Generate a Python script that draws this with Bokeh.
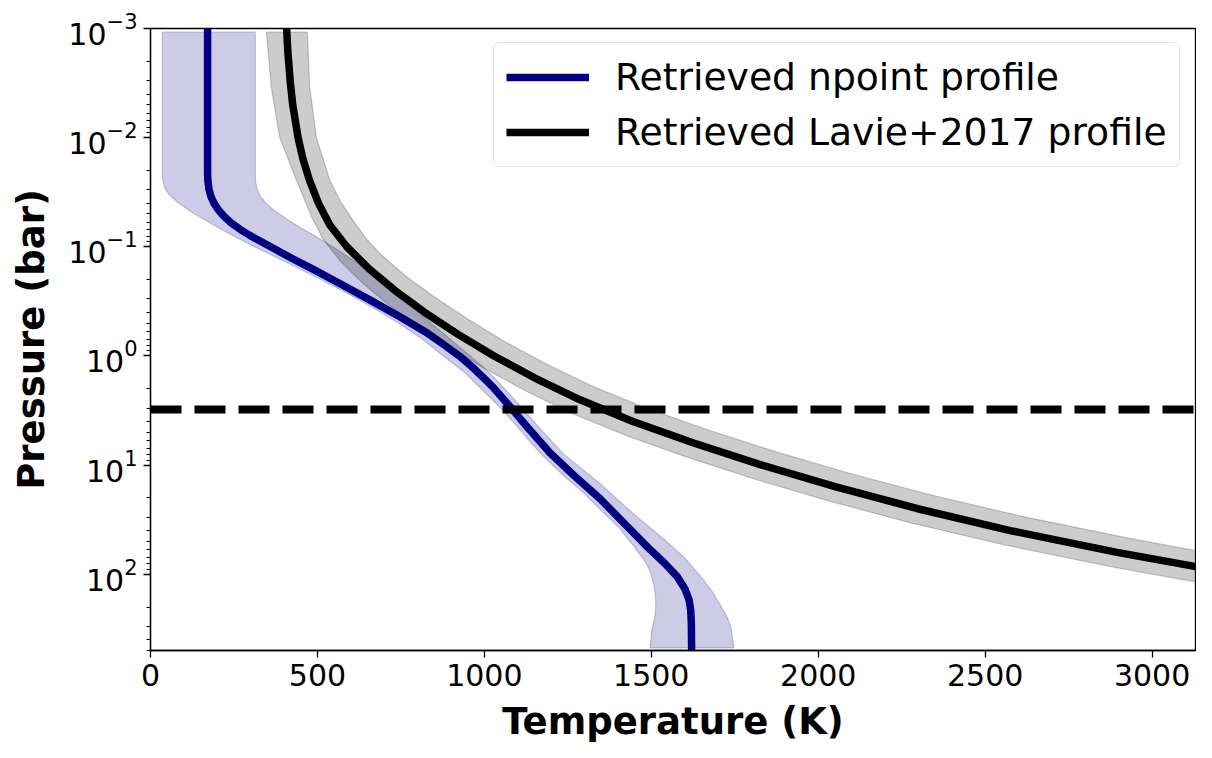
from bokeh.plotting import figure
from bokeh.models import Range1d, FixedTicker, Span, LogTicker
from bokeh.embed import file_html
from bokeh.resources import INLINE

# ---- data ----
# npoint profile: log10(P/bar) and temperature (K)
blue_logp = [-3.05, -1.67, -1.60, -1.53, -1.46, -1.40, -1.34, -1.28, -1.22, -1.16, -1.10, -1.03,
             -0.90, -0.786, -0.65, -0.50, -0.35, -0.207, -0.10, 0.0, 0.10, 0.19, 0.30, 0.465,
             0.65, 0.89, 1.10, 1.31, 1.55, 1.776, 1.90, 2.02, 2.13, 2.233, 2.33, 2.45, 2.75]
blue_T = [171, 171, 172, 175, 181, 190, 203, 220, 241, 268, 300, 342,
          420, 492, 575, 665, 752, 830, 880, 925, 963, 994, 1030, 1077,
          1128, 1197, 1270, 1347, 1424, 1497, 1540, 1577, 1600, 1613, 1618, 1620, 1621]

# npoint envelope
blue_lo_logp = [-2.966, -1.67, -1.60, -1.53, -1.488, -1.41, -1.335, -1.26, -1.182, -1.10, -1.03,
                -0.92, -0.816, -0.70, -0.573, -0.44, -0.298, -0.15, 0.007, 0.15, 0.312, 0.45,
                0.60, 0.75, 0.90, 1.105, 1.25, 1.40, 1.58, 1.745, 1.90, 1.99, 2.10, 2.23, 2.32,
                2.40, 2.50, 2.675]
blue_lo_T = [35, 35, 37, 44, 53, 80, 115, 155, 199, 248, 292,
             365, 435, 510, 590, 668, 745, 815, 880, 940, 994, 1040,
             1085, 1127, 1170, 1240, 1295, 1345, 1405, 1448, 1485, 1498, 1508, 1513, 1513,
             1510, 1502, 1496]
blue_hi_logp = [-2.966, -1.67, -1.60, -1.53, -1.46, -1.40, -1.335, -1.26, -1.182, -1.10, -1.0,
                -0.90, -0.786, -0.66, -0.54, -0.42, -0.30, -0.20, -0.10, 0.0, 0.10, 0.20, 0.312,
                0.45, 0.65, 0.90, 1.166, 1.45, 1.684, 1.85, 2.02, 2.16, 2.29, 2.40, 2.48, 2.675]
blue_hi_T = [314, 314, 315, 319, 330, 346, 370, 405, 446, 492, 546,
             596, 650, 700, 748, 795, 840, 880, 918, 958, 995, 1030, 1064,
             1105, 1162, 1238, 1345, 1448, 1540, 1600, 1648, 1683, 1708, 1728, 1738, 1748]

# Lavie+2017 profile
black_logp = [-3.05, -2.8, -2.5, -2.3, -2.0, -1.8, -1.61, -1.4, -1.2, -1.0, -0.8, -0.6, -0.4,
              -0.2, 0.0, 0.2, 0.4, 0.6, 0.8, 1.0, 1.2, 1.4, 1.6, 1.8, 1.928, 2.1, 2.3]
black_T = [407, 411, 419, 426, 442, 457, 476, 503, 537, 588, 654, 732, 821,
           920, 1029, 1150, 1285, 1445, 1629, 1831, 2053, 2298, 2575, 2895, 3127, 3476, 3943]

# Lavie+2017 envelope
gray_lo_logp = [-2.966, -2.46, -2.0, -1.61, -1.27, -1.07, -0.87, -0.67, -0.47, -0.27, -0.07, 0.13,
                0.33, 0.53, 0.73, 0.93, 1.13, 1.33, 1.53, 1.73, 1.93, 2.058, 2.23, 2.43]
gray_lo_T = [347, 362, 387, 437, 483, 517, 568, 634, 712, 801, 900, 1009,
             1130, 1265, 1425, 1609, 1811, 2033, 2278, 2555, 2875, 3107, 3456, 3923]
gray_hi_logp = [-2.966, -2.46, -2.0, -1.61, -1.42, -1.24, -1.08, -0.93, -0.73, -0.53, -0.33, -0.13,
                0.07, 0.27, 0.47, 0.67, 0.87, 1.07, 1.27, 1.47, 1.67, 1.80, 1.97]
gray_hi_T = [470, 477, 497, 537, 568, 607, 645, 690, 765, 855, 955, 1062,
             1183, 1318, 1478, 1662, 1865, 2088, 2333, 2610, 2930, 3160, 3510]

cloud_p = 3.1          # dashed horizontal line (bar)
x_ticks = [0, 500, 1000, 1500, 2000, 2500, 3000]
x_max = 3130
p_top, p_bottom = 1e-3, 500

def P(lst):
    return [10 ** v for v in lst]

FONT = "DejaVu Sans"

p = figure(width=1196, height=742, frame_width=1045, frame_height=622,
           y_axis_type="log", x_range=Range1d(0, x_max), y_range=Range1d(p_bottom, p_top),
           output_backend="svg", toolbar_location=None,
           min_border_left=150, min_border_right=1, min_border_top=28, min_border_bottom=92)
p.grid.visible = False
p.background_fill_color = "white"
p.border_fill_color = "white"
p.outline_line_color = "black"
p.outline_line_width = 1.3

# npoint envelope + line
p.patch(blue_lo_T + blue_hi_T[::-1], P(blue_lo_logp) + P(blue_hi_logp)[::-1],
        fill_color="navy", fill_alpha=0.2, line_color="navy", line_alpha=0.2, line_width=1.2)
p.line(blue_T, P(blue_logp), line_color="navy", line_width=7.5, line_join="round",
       legend_label="Retrieved npoint profile")

# Lavie envelope + line
p.patch(gray_lo_T + gray_hi_T[::-1], P(gray_lo_logp) + P(gray_hi_logp)[::-1],
        fill_color="black", fill_alpha=0.2, line_color="black", line_alpha=0.2, line_width=1.2)
p.line(black_T, P(black_logp), line_color="black", line_width=7.5, line_join="round",
       legend_label="Retrieved Lavie+2017 profile")

p.add_layout(Span(location=cloud_p, dimension="width", line_color="black",
                  line_width=8, line_dash="31 13"))

# axes
p.xaxis.ticker = FixedTicker(ticks=x_ticks)
p.yaxis.ticker = LogTicker(num_minor_ticks=10)
for ax in (p.xaxis[0], p.yaxis[0]):
    ax.axis_line_color = "black"
    ax.axis_line_width = 1.3
    ax.major_tick_line_color = "black"
    ax.major_tick_line_width = 1.3
    ax.major_tick_in = 0
    ax.major_tick_out = 7
    ax.minor_tick_in = 0
    ax.minor_tick_out = 4
    ax.minor_tick_line_width = 1.0
    ax.major_label_text_font = FONT
    ax.major_label_text_font_size = "30px"
    ax.major_label_text_color = "black"
    ax.axis_label_text_font = FONT
    ax.axis_label_text_font_size = "37px"
    ax.axis_label_text_font_style = "bold"
    ax.axis_label_text_color = "black"
p.xaxis.minor_tick_line_color = None
p.xaxis.axis_label = "Temperature (K)"
p.yaxis.axis_label = "Pressure (bar)"
p.xaxis.major_label_standoff = 6
p.yaxis.major_label_standoff = 6
p.xaxis.axis_label_standoff = 11
p.yaxis.axis_label_standoff = 12

# legend
lg = p.legend[0]
lg.location = (343, 483)
lg.label_text_font = FONT
lg.label_text_font_size = "37.7px"
lg.label_text_color = "black"
lg.glyph_width = 83
lg.glyph_height = 44
lg.label_height = 44
lg.label_standoff = 26
lg.spacing = 11
lg.padding = 12
lg.margin = 0
lg.border_line_color = "#cccccc"
lg.border_line_width = 1.3
lg.background_fill_alpha = 0.8
if "border_radius" in lg.properties():
    lg.border_radius = 6

open("out.html", "w").write(file_html(p, INLINE))
